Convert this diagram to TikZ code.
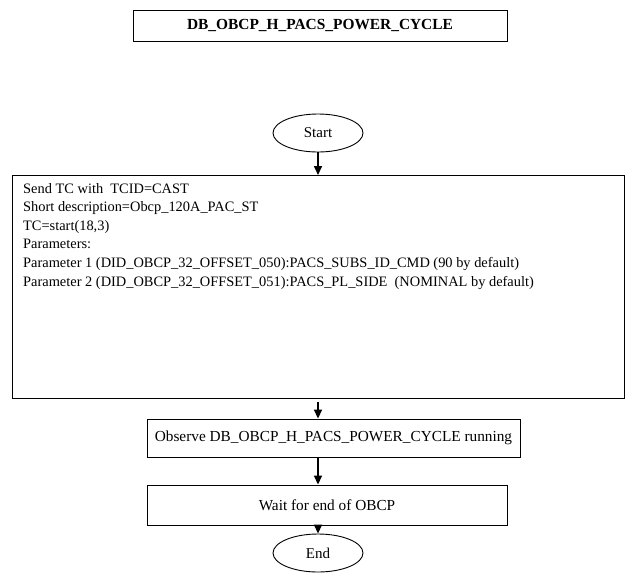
\documentclass[tikz,border=0pt]{standalone}
\usepackage{fontspec}
\setmainfont{Liberation Serif}
\usetikzlibrary{arrows.meta,shapes.geometric}
\begin{document}
\begin{tikzpicture}[x=1pt,y=1pt,
  box/.style={draw, line width=0.9pt, inner sep=0pt},
  term/.style={draw, ellipse, line width=0.9pt, minimum width=90pt, minimum height=38pt, font=\fontsize{15}{17}\selectfont},
  flow/.style={-{Triangle[length=9pt,width=8pt]}, line width=1.6pt}]
  \useasboundingbox (0,0) rectangle (626,-574);
  % title
  \node[box, minimum width=374pt, minimum height=31pt, font=\bfseries\fontsize{15.4}{18}\selectfont] (title) at (320,-25.5) {DB\_OBCP\_H\_PACS\_POWER\_CYCLE};
  % start
  \node[term] (start) at (318,-133) {Start};
  % telecommand box
  \node[box, anchor=north west, minimum width=612pt, minimum height=223pt] (tc) at (12,-175) {};
  \node[anchor=north west, align=left, inner sep=0pt, font=\fontsize{14.4}{18.6}\selectfont] (tctext) at (23,-183) {Send TC with\ \ TCID=CAST\\
    Short description=Obcp\_120A\_PAC\_ST\\
    TC=start(18,3)\\
    Parameters:\\
    Parameter 1 (DID\_OBCP\_32\_OFFSET\_050):PACS\_SUBS\_ID\_CMD (90 by default)\\
    Parameter 2 (DID\_OBCP\_32\_OFFSET\_051):PACS\_PL\_SIDE\ \ (NOMINAL by default)};
  % observe and wait
  \node[box, minimum width=373pt, minimum height=38pt, font=\fontsize{15.3}{18}\selectfont] (observe) at (333.5,-438) {Observe DB\_OBCP\_H\_PACS\_POWER\_CYCLE running};
  \node[box, minimum width=360pt, minimum height=40pt, font=\fontsize{15.3}{18}\selectfont] (wait) at (327,-505) {Wait for end of OBCP};
  % end
  \node[term] (end) at (318,-553) {End};
  % connectors
  \draw[flow] (start.south) -- (start.south |- tc.north);
  \draw[flow] ([yshift=-3pt]tc.south -| start) -- (observe.north -| start);
  \draw[flow] (observe.south -| start) -- (wait.north -| start);
  \draw[flow] (wait.south -| end) -- (end.north);
\end{tikzpicture}
\end{document}
